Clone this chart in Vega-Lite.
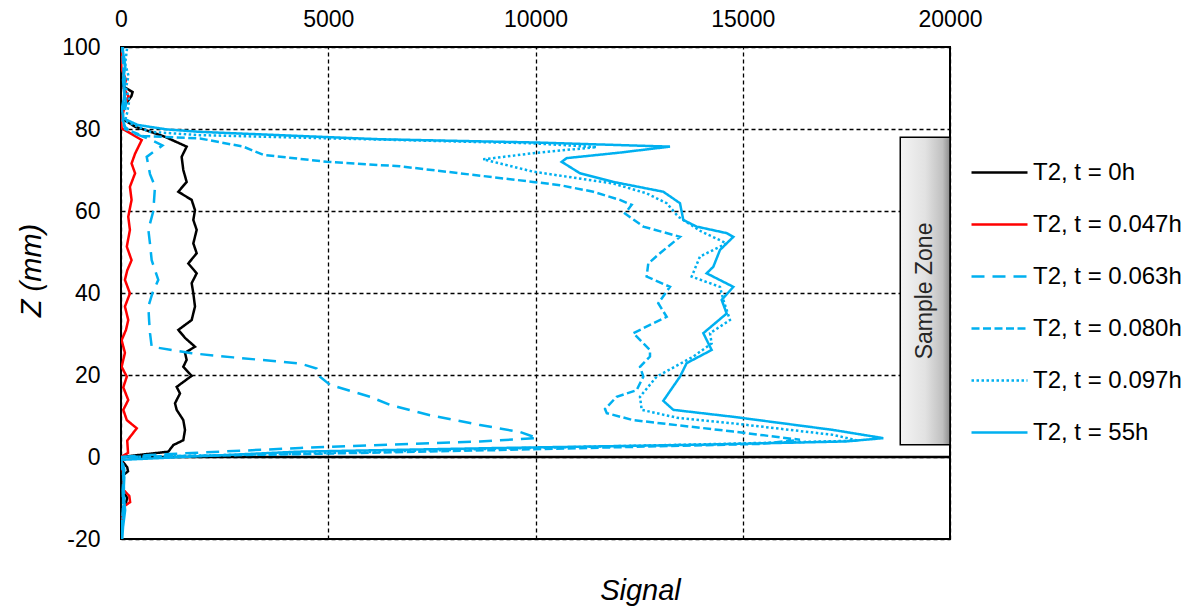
{
  "$schema": "https://vega.github.io/schema/vega-lite/v6.json",
  "autosize": "none",
  "width": 829,
  "height": 492,
  "padding": {"left": 121, "top": 47, "right": 247, "bottom": 71},
  "background": "white",
  "config": {
    "view": {"stroke": "#000000", "strokeWidth": 2},
    "font": "Liberation Sans",
    "axis": {"labelFont": "Liberation Sans", "titleFont": "Liberation Sans", "labelColor": "#000000", "titleColor": "#000000"}
  },
  "title": {"text": "Signal", "orient": "bottom", "fontSize": 29, "fontStyle": "italic", "fontWeight": "normal", "font": "Liberation Sans", "color": "#000000", "dx": 105, "offset": 26},
  "datasets": {
    "curves": [
      {"s":"0h","x":0,"z":-20},{"s":"0h","x":30,"z":-13},{"s":"0h","x":110,"z":-11.5},{"s":"0h","x":150,"z":-10},{"s":"0h","x":30,"z":-8},{"s":"0h","x":40,"z":-4.5},{"s":"0h","x":170,"z":-3.5},{"s":"0h","x":150,"z":-2.5},{"s":"0h","x":30,"z":-1},{"s":"0h","x":0,"z":0},{"s":"0h","x":1141,"z":1.3},{"s":"0h","x":1262,"z":2.9},{"s":"0h","x":1503,"z":4.1},{"s":"0h","x":1544,"z":6.6},{"s":"0h","x":1503,"z":9},{"s":"0h","x":1343,"z":11.5},{"s":"0h","x":1303,"z":13.1},{"s":"0h","x":1423,"z":15.5},{"s":"0h","x":1343,"z":17.1},{"s":"0h","x":1705,"z":19.8},{"s":"0h","x":1503,"z":22},{"s":"0h","x":1584,"z":23.7},{"s":"0h","x":1544,"z":25.4},{"s":"0h","x":1785,"z":26.9},{"s":"0h","x":1550,"z":29},{"s":"0h","x":1383,"z":31},{"s":"0h","x":1705,"z":33.4},{"s":"0h","x":1785,"z":36.7},{"s":"0h","x":1745,"z":39.9},{"s":"0h","x":1705,"z":42.4},{"s":"0h","x":1826,"z":44.8},{"s":"0h","x":1624,"z":47.2},{"s":"0h","x":1826,"z":49.7},{"s":"0h","x":1745,"z":52.1},{"s":"0h","x":1826,"z":55.4},{"s":"0h","x":1745,"z":57.8},{"s":"0h","x":1785,"z":60.2},{"s":"0h","x":1705,"z":62.7},{"s":"0h","x":1383,"z":64.7},{"s":"0h","x":1584,"z":67.1},{"s":"0h","x":1503,"z":70},{"s":"0h","x":1463,"z":73.2},{"s":"0h","x":1584,"z":75.7},{"s":"0h","x":1061,"z":78.1},{"s":"0h","x":579,"z":79.8},{"s":"0h","x":350,"z":80.5},{"s":"0h","x":0,"z":82.7},{"s":"0h","x":30,"z":85},{"s":"0h","x":250,"z":88},{"s":"0h","x":280,"z":89},{"s":"0h","x":40,"z":90.5},{"s":"0h","x":0,"z":93},{"s":"0h","x":0,"z":100},

      {"s":"0.047h","x":0,"z":-20},{"s":"0.047h","x":40,"z":-14},{"s":"0.047h","x":80,"z":-12},{"s":"0.047h","x":220,"z":-11},{"s":"0.047h","x":200,"z":-9.5},{"s":"0.047h","x":60,"z":-8},{"s":"0.047h","x":60,"z":-5},{"s":"0.047h","x":20,"z":-1},{"s":"0.047h","x":0,"z":0},{"s":"0.047h","x":170,"z":1},{"s":"0.047h","x":150,"z":4},{"s":"0.047h","x":380,"z":7},{"s":"0.047h","x":140,"z":9},{"s":"0.047h","x":55,"z":11.5},{"s":"0.047h","x":175,"z":13.9},{"s":"0.047h","x":55,"z":17},{"s":"0.047h","x":140,"z":19.6},{"s":"0.047h","x":15,"z":22},{"s":"0.047h","x":95,"z":25.4},{"s":"0.047h","x":15,"z":28.5},{"s":"0.047h","x":120,"z":31},{"s":"0.047h","x":175,"z":33.4},{"s":"0.047h","x":95,"z":36.7},{"s":"0.047h","x":215,"z":39.9},{"s":"0.047h","x":95,"z":43.2},{"s":"0.047h","x":150,"z":45.5},{"s":"0.047h","x":255,"z":48},{"s":"0.047h","x":140,"z":51.3},{"s":"0.047h","x":215,"z":55.4},{"s":"0.047h","x":175,"z":58.6},{"s":"0.047h","x":255,"z":62.7},{"s":"0.047h","x":215,"z":65.9},{"s":"0.047h","x":340,"z":69.2},{"s":"0.047h","x":255,"z":71.6},{"s":"0.047h","x":340,"z":74},{"s":"0.047h","x":500,"z":77.3},{"s":"0.047h","x":300,"z":78.5},{"s":"0.047h","x":15,"z":80.2},{"s":"0.047h","x":0,"z":82},{"s":"0.047h","x":100,"z":86},{"s":"0.047h","x":180,"z":88},{"s":"0.047h","x":60,"z":90},{"s":"0.047h","x":120,"z":92},{"s":"0.047h","x":0,"z":95},{"s":"0.047h","x":0,"z":100},

      {"s":"0.063h","x":0,"z":-20},{"s":"0.063h","x":60,"z":-15},{"s":"0.063h","x":40,"z":-8},{"s":"0.063h","x":80,"z":-3},{"s":"0.063h","x":0,"z":0},{"s":"0.063h","x":700,"z":0.5},{"s":"0.063h","x":4320,"z":2.2},{"s":"0.063h","x":8660,"z":3.8},{"s":"0.063h","x":10040,"z":4.6},{"s":"0.063h","x":9625,"z":6.1},{"s":"0.063h","x":8660,"z":7.8},{"s":"0.063h","x":7454,"z":10.2},{"s":"0.063h","x":6490,"z":12.7},{"s":"0.063h","x":6007,"z":14.7},{"s":"0.063h","x":5042,"z":17.6},{"s":"0.063h","x":4800,"z":19.6},{"s":"0.063h","x":4720,"z":21.6},{"s":"0.063h","x":4318,"z":22.8},{"s":"0.063h","x":2710,"z":24.3},{"s":"0.063h","x":1705,"z":25.3},{"s":"0.063h","x":740,"z":26.9},{"s":"0.063h","x":700,"z":30.2},{"s":"0.063h","x":680,"z":33},{"s":"0.063h","x":660,"z":36.7},{"s":"0.063h","x":760,"z":40},{"s":"0.063h","x":900,"z":43.2},{"s":"0.063h","x":740,"z":48},{"s":"0.063h","x":700,"z":52},{"s":"0.063h","x":660,"z":55.4},{"s":"0.063h","x":780,"z":60},{"s":"0.063h","x":820,"z":66},{"s":"0.063h","x":700,"z":69},{"s":"0.063h","x":620,"z":73.2},{"s":"0.063h","x":1000,"z":76},{"s":"0.063h","x":700,"z":77.5},{"s":"0.063h","x":300,"z":79},{"s":"0.063h","x":100,"z":80.5},{"s":"0.063h","x":50,"z":82},{"s":"0.063h","x":120,"z":86},{"s":"0.063h","x":80,"z":90},{"s":"0.063h","x":100,"z":95},{"s":"0.063h","x":50,"z":100},

      {"s":"0.080h","x":0,"z":-20},{"s":"0.080h","x":50,"z":-12},{"s":"0.080h","x":60,"z":-5},{"s":"0.080h","x":0,"z":0},{"s":"0.080h","x":4318,"z":0.7},{"s":"0.080h","x":9143,"z":1.7},{"s":"0.080h","x":15415,"z":3.2},{"s":"0.080h","x":16380,"z":4.2},{"s":"0.080h","x":14773,"z":6.2},{"s":"0.080h","x":12350,"z":9},{"s":"0.080h","x":11720,"z":10.7},{"s":"0.080h","x":11677,"z":11.7},{"s":"0.080h","x":11958,"z":14.7},{"s":"0.080h","x":12440,"z":16.3},{"s":"0.080h","x":12601,"z":19.6},{"s":"0.080h","x":12521,"z":22},{"s":"0.080h","x":12762,"z":24.5},{"s":"0.080h","x":12762,"z":26.1},{"s":"0.080h","x":12359,"z":30.2},{"s":"0.080h","x":13164,"z":34.2},{"s":"0.080h","x":12962,"z":37.5},{"s":"0.080h","x":13245,"z":41.5},{"s":"0.080h","x":12681,"z":44},{"s":"0.080h","x":12721,"z":47.2},{"s":"0.080h","x":13003,"z":49.7},{"s":"0.080h","x":13486,"z":53.7},{"s":"0.080h","x":12601,"z":56.2},{"s":"0.080h","x":12159,"z":59.4},{"s":"0.080h","x":12320,"z":61.5},{"s":"0.080h","x":12038,"z":62.7},{"s":"0.080h","x":11395,"z":64.7},{"s":"0.080h","x":10591,"z":66.3},{"s":"0.080h","x":9940,"z":67.1},{"s":"0.080h","x":6731,"z":70.9},{"s":"0.080h","x":4963,"z":72},{"s":"0.080h","x":3433,"z":73.7},{"s":"0.080h","x":2950,"z":75.7},{"s":"0.080h","x":1906,"z":77.7},{"s":"0.080h","x":530,"z":78.3},{"s":"0.080h","x":100,"z":80},{"s":"0.080h","x":40,"z":82},{"s":"0.080h","x":90,"z":88},{"s":"0.080h","x":60,"z":94},{"s":"0.080h","x":30,"z":100},

      {"s":"0.097h","x":0,"z":-20},{"s":"0.097h","x":80,"z":-10},{"s":"0.097h","x":50,"z":-3},{"s":"0.097h","x":0,"z":0},{"s":"0.097h","x":4300,"z":0.8},{"s":"0.097h","x":9000,"z":2},{"s":"0.097h","x":14500,"z":3.2},{"s":"0.097h","x":17780,"z":4},{"s":"0.097h","x":17180,"z":5.4},{"s":"0.097h","x":14773,"z":8.2},{"s":"0.097h","x":13406,"z":9.6},{"s":"0.097h","x":12561,"z":11.5},{"s":"0.097h","x":12521,"z":14.7},{"s":"0.097h","x":12923,"z":19.6},{"s":"0.097h","x":13808,"z":24.5},{"s":"0.097h","x":14250,"z":27.7},{"s":"0.097h","x":14210,"z":30.2},{"s":"0.097h","x":14692,"z":33.4},{"s":"0.097h","x":14532,"z":38.3},{"s":"0.097h","x":14451,"z":41.5},{"s":"0.097h","x":13768,"z":44},{"s":"0.097h","x":13968,"z":48.9},{"s":"0.097h","x":14612,"z":52.1},{"s":"0.097h","x":14000,"z":55},{"s":"0.097h","x":13446,"z":58.6},{"s":"0.097h","x":13164,"z":61.9},{"s":"0.097h","x":12681,"z":64.3},{"s":"0.097h","x":11877,"z":66.7},{"s":"0.097h","x":9940,"z":69.6},{"s":"0.097h","x":8740,"z":72.6},{"s":"0.097h","x":9940,"z":74.1},{"s":"0.097h","x":11476,"z":75.6},{"s":"0.097h","x":9940,"z":76.5},{"s":"0.097h","x":5114,"z":77.7},{"s":"0.097h","x":1906,"z":78.5},{"s":"0.097h","x":700,"z":79.3},{"s":"0.097h","x":97,"z":82},{"s":"0.097h","x":150,"z":84},{"s":"0.097h","x":200,"z":87},{"s":"0.097h","x":120,"z":90},{"s":"0.097h","x":180,"z":93},{"s":"0.097h","x":100,"z":96},{"s":"0.097h","x":150,"z":100},

      {"s":"55h","x":30,"z":-20},{"s":"55h","x":50,"z":-17},{"s":"55h","x":100,"z":-13},{"s":"55h","x":60,"z":-9},{"s":"55h","x":80,"z":-5},{"s":"55h","x":30,"z":-2},{"s":"55h","x":0,"z":-0.7},{"s":"55h","x":4270,"z":1.3},{"s":"55h","x":9143,"z":2.2},{"s":"55h","x":14000,"z":3},{"s":"55h","x":17500,"z":3.8},{"s":"55h","x":18391,"z":4.6},{"s":"55h","x":17180,"z":6.6},{"s":"55h","x":14773,"z":9.8},{"s":"55h","x":13325,"z":11.5},{"s":"55h","x":13083,"z":13.7},{"s":"55h","x":13486,"z":19.6},{"s":"55h","x":13647,"z":22.9},{"s":"55h","x":14250,"z":26.1},{"s":"55h","x":14049,"z":30.2},{"s":"55h","x":14612,"z":35},{"s":"55h","x":14491,"z":38.3},{"s":"55h","x":14773,"z":41.5},{"s":"55h","x":14129,"z":44.8},{"s":"55h","x":14290,"z":46.4},{"s":"55h","x":14451,"z":50.5},{"s":"55h","x":14773,"z":53.7},{"s":"55h","x":14612,"z":54.6},{"s":"55h","x":13888,"z":56.2},{"s":"55h","x":13566,"z":57.8},{"s":"55h","x":13486,"z":61.9},{"s":"55h","x":13083,"z":64.7},{"s":"55h","x":11877,"z":67.1},{"s":"55h","x":11073,"z":69.2},{"s":"55h","x":10632,"z":72},{"s":"55h","x":10752,"z":72.9},{"s":"55h","x":12000,"z":74.2},{"s":"55h","x":13245,"z":75.7},{"s":"55h","x":10029,"z":76.7},{"s":"55h","x":6248,"z":77.5},{"s":"55h","x":1906,"z":79.3},{"s":"55h","x":1101,"z":79.9},{"s":"55h","x":400,"z":81},{"s":"55h","x":56,"z":82.6},{"s":"55h","x":20,"z":85},{"s":"55h","x":80,"z":88},{"s":"55h","x":50,"z":92},{"s":"55h","x":100,"z":95},{"s":"55h","x":60,"z":98},{"s":"55h","x":40,"z":100}
    ]
  },
  "layer": [
    {
      "data": {"values": [{}]},
      "mark": {"type": "rect", "stroke": "#000000", "strokeWidth": 1.5, "fill": {"gradient": "linear", "x1": 0, "y1": 0, "x2": 1, "y2": 0, "stops": [{"offset": 0, "color": "#f4f4f4"}, {"offset": 0.5, "color": "#e2e2e2"}, {"offset": 0.85, "color": "#c0c0c0"}, {"offset": 1, "color": "#8c8c8c"}]}},
      "encoding": {
        "x": {"datum": 18800, "type": "quantitative", "scale": {"domain": [0, 20000], "nice": false}, "axis": {"orient": "top", "values": [0, 5000, 10000, 15000, 20000], "format": "d", "title": null, "grid": true, "gridColor": "#000000", "gridDash": [4, 3], "gridWidth": 1.3, "gridOpacity": 1, "ticks": false, "domain": false, "labelFontSize": 23, "labelPadding": 16, "labelFlush": false}},
        "x2": {"datum": 20000},
        "y": {"datum": 3, "type": "quantitative", "scale": {"domain": [-20, 100], "nice": false}, "axis": {"values": [-20, 0, 20, 40, 60, 80, 100], "labelExpr": "datum.value + ''", "title": "Z (mm)", "titleFontSize": 29, "titleFontStyle": "italic", "titleFontWeight": "normal", "titlePadding": 15, "titleY": 223, "grid": true, "gridColor": "#000000", "gridDash": [4, 3], "gridWidth": 1.3, "gridOpacity": 1, "ticks": false, "domain": false, "labelFontSize": 23, "labelPadding": 21, "labelFlush": false}},
        "y2": {"datum": 78}
      }
    },
    {
      "data": {"values": [{}]},
      "mark": {"type": "text", "angle": 270, "fontSize": 23, "font": "Liberation Sans", "color": "#262626", "align": "center", "baseline": "middle"},
      "encoding": {
        "x": {"datum": 19400, "type": "quantitative"},
        "y": {"datum": 40.5, "type": "quantitative"},
        "text": {"value": "Sample Zone"}
      }
    },
    {
      "data": {"values": [{}]},
      "mark": {"type": "rule", "color": "#000000", "strokeWidth": 2.5},
      "encoding": {"y": {"datum": 0, "type": "quantitative"}}
    },
    {
      "data": {"name": "curves"},
      "mark": {"type": "line", "strokeWidth": 2.5, "clip": true},
      "encoding": {
        "x": {"field": "x", "type": "quantitative"},
        "y": {"field": "z", "type": "quantitative"},
        "order": {"field": "z", "type": "quantitative"},
        "color": {"field": "s", "type": "nominal", "scale": {"domain": ["0h", "0.047h", "0.063h", "0.080h", "0.097h", "55h"], "range": ["#000000", "#ff0000", "#00b0f0", "#00b0f0", "#00b0f0", "#00b0f0"]},
          "legend": {"title": null, "orient": "none", "legendX": 849, "legendY": 96, "symbolType": "stroke", "symbolSize": 3136, "symbolStrokeWidth": 2.5, "labelFontSize": 24, "labelFont": "Liberation Sans", "labelColor": "#000000", "labelOffset": 4, "rowPadding": 10, "labelExpr": "'T2, t = ' + datum.label"}},
        "strokeDash": {"field": "s", "type": "nominal", "scale": {"domain": ["0h", "0.047h", "0.063h", "0.080h", "0.097h", "55h"], "range": [[1, 0], [1, 0], [13, 8], [8, 3.5], [2.5, 2.5], [1, 0]]},
          "legend": {"title": null, "orient": "none", "legendX": 849, "legendY": 96, "symbolType": "stroke", "symbolSize": 3136, "symbolStrokeWidth": 2.5, "labelFontSize": 24, "labelFont": "Liberation Sans", "labelColor": "#000000", "labelOffset": 4, "rowPadding": 10, "labelExpr": "'T2, t = ' + datum.label"}}
      }
    }
  ]
}
